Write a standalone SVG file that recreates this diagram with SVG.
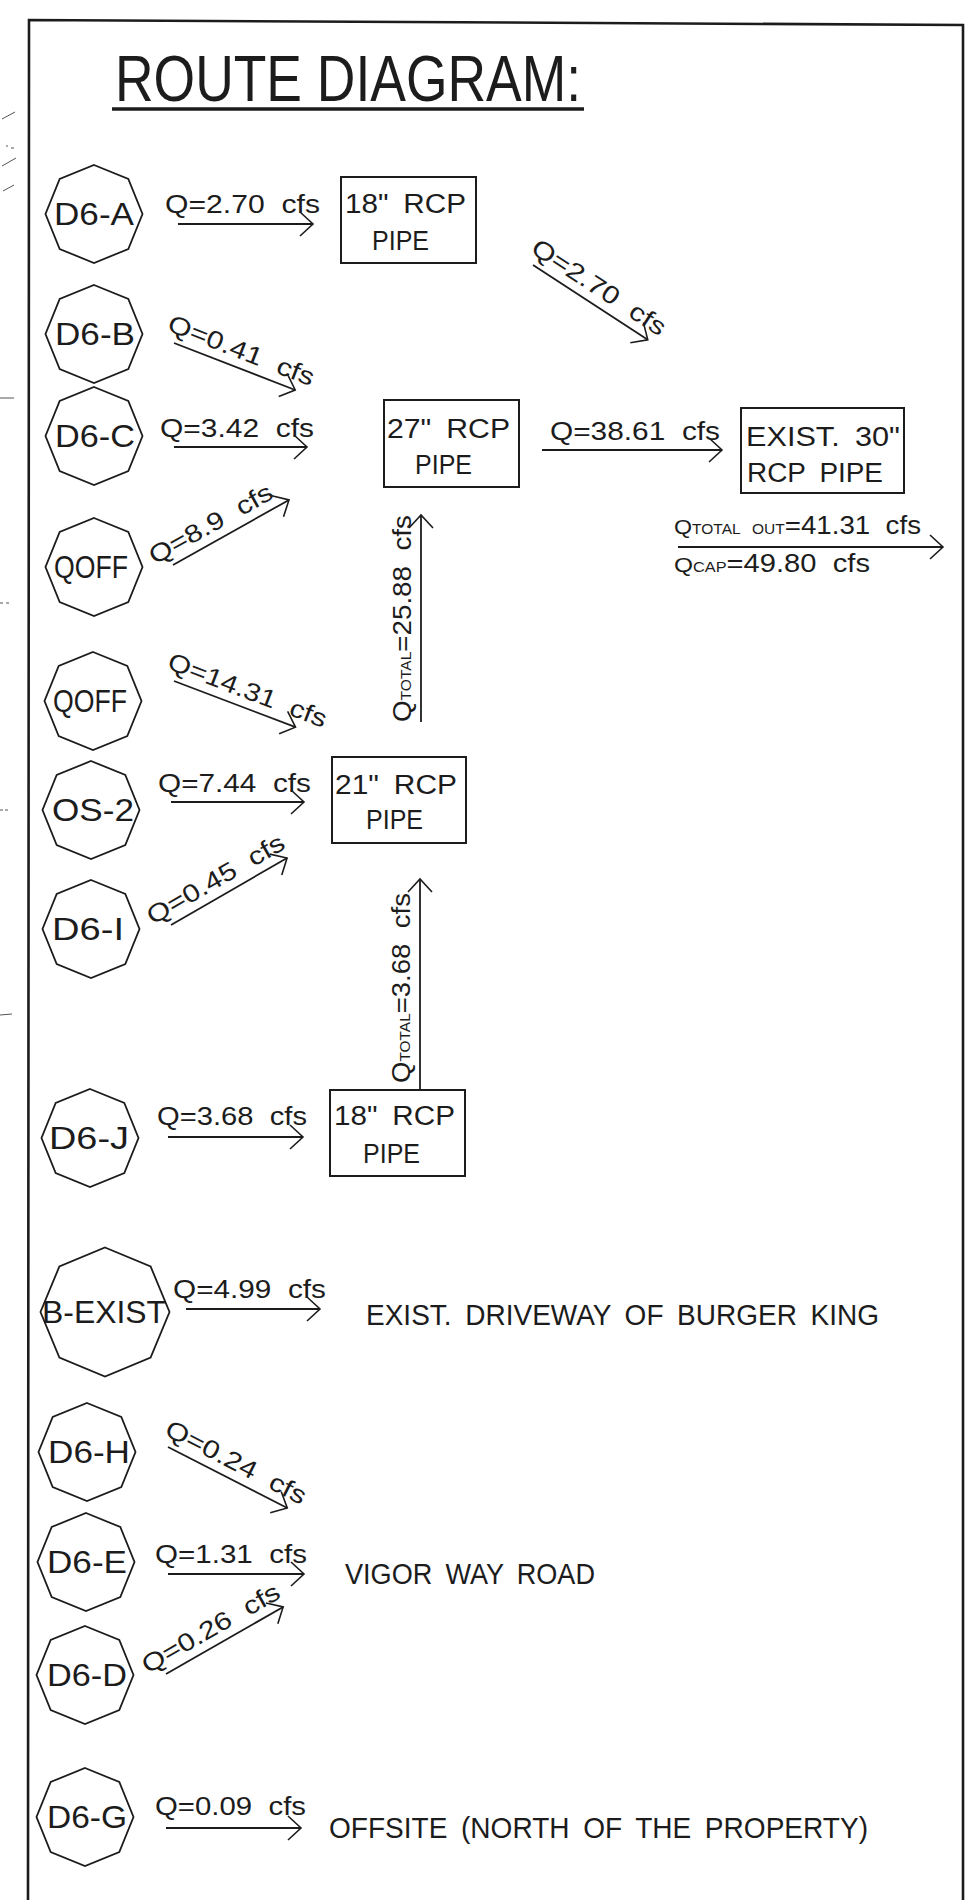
<svg xmlns="http://www.w3.org/2000/svg" width="974" height="1900" viewBox="0 0 974 1900">
<style>
text{font-family:"Liberation Sans",Arial,sans-serif;fill:#1c1c1c}
.lbl{font-size:25px;word-spacing:7px}
.nl{font-size:31px;text-anchor:middle}
.bx{font-size:27px;word-spacing:6px}
.dst{font-size:29px;word-spacing:6px}
.sm{font-size:14px}
.oct{fill:none;stroke:#1c1c1c;stroke-width:1.8}
.box{fill:none;stroke:#1c1c1c;stroke-width:2}
.arr{stroke:#1c1c1c;stroke-width:1.8;fill:none;marker-end:url(#ah)}
.frame{fill:none;stroke:#1c1c1c;stroke-width:2.6}
.mark{stroke:#555;stroke-width:1;fill:none}
</style>
<defs>
<polygon id="oct" points="0,-49 34.3,-35 48.5,0 34.3,35 0,49 -34.3,35 -48.5,0 -34.3,-35"/>
<polygon id="octL" points="0,-64.5 45.6,-45.6 64.5,0 45.6,45.6 0,64.5 -45.6,45.6 -64.5,0 -45.6,-45.6"/>
<marker id="ah" markerUnits="userSpaceOnUse" viewBox="-16 -16 32 32" markerWidth="32" markerHeight="32" refX="0" refY="0" orient="auto" overflow="visible">
<path d="M-13,-12 L0,0 L-13,12" fill="none" stroke="#1c1c1c" stroke-width="1.6"/>
</marker>
</defs>
<rect width="974" height="1900" fill="#ffffff"/>

<g id="frame">
<path class="frame" d="M28,1902 L29,20 L963,25 L963,1902"/>
<path class="mark" d="M2,119 L15,112 M6,146 L8,146 M11,148 L14,148 M2,166 L16,158 M3,191 L14,185 M0,398 L14,398 M0,603 L3,603 M6,603 L9,603 M0,810 L3,810 M5,810 L8,810 M0,1015 L12,1014"/>
</g>

<g id="title">
<text x="115" y="101" font-size="64" textLength="466" lengthAdjust="spacingAndGlyphs">ROUTE DIAGRAM:</text>
<line x1="112" y1="109" x2="584" y2="109" stroke="#1c1c1c" stroke-width="3.5"/>
</g>

<g id="node-d6a"><use href="#oct" class="oct" x="94" y="214"/><text class="nl" x="94" y="225" textLength="80" lengthAdjust="spacingAndGlyphs">D6-A</text></g>
<g id="node-d6b"><use href="#oct" class="oct" x="94" y="334"/><text class="nl" x="95" y="345" textLength="80" lengthAdjust="spacingAndGlyphs">D6-B</text></g>
<g id="node-d6c"><use href="#oct" class="oct" x="94" y="436"/><text class="nl" x="95" y="447" textLength="80" lengthAdjust="spacingAndGlyphs">D6-C</text></g>
<g id="node-qoff1"><use href="#oct" class="oct" x="94" y="567"/><text class="nl" x="91" y="578" textLength="74" lengthAdjust="spacingAndGlyphs">QOFF</text></g>
<g id="node-qoff2"><use href="#oct" class="oct" x="93" y="701"/><text class="nl" x="90" y="712" textLength="74" lengthAdjust="spacingAndGlyphs">QOFF</text></g>
<g id="node-os2"><use href="#oct" class="oct" x="91" y="810"/><text class="nl" x="93" y="821" textLength="82" lengthAdjust="spacingAndGlyphs">OS-2</text></g>
<g id="node-d6i"><use href="#oct" class="oct" x="91" y="929"/><text class="nl" x="88" y="940" textLength="72" lengthAdjust="spacingAndGlyphs">D6-I</text></g>
<g id="node-d6j"><use href="#oct" class="oct" x="90" y="1138"/><text class="nl" x="89" y="1149" textLength="80" lengthAdjust="spacingAndGlyphs">D6-J</text></g>
<g id="node-bexist"><use href="#octL" class="oct" x="105" y="1312"/><text class="nl" x="104" y="1323" textLength="124" lengthAdjust="spacingAndGlyphs">B-EXIST</text></g>
<g id="node-d6h"><use href="#oct" class="oct" x="87" y="1452"/><text class="nl" x="89" y="1463" textLength="82" lengthAdjust="spacingAndGlyphs">D6-H</text></g>
<g id="node-d6e"><use href="#oct" class="oct" x="86" y="1562"/><text class="nl" x="87" y="1573" textLength="80" lengthAdjust="spacingAndGlyphs">D6-E</text></g>
<g id="node-d6d"><use href="#oct" class="oct" x="85" y="1675"/><text class="nl" x="87" y="1686" textLength="80" lengthAdjust="spacingAndGlyphs">D6-D</text></g>
<g id="node-d6g"><use href="#oct" class="oct" x="85" y="1817"/><text class="nl" x="87" y="1828" textLength="80" lengthAdjust="spacingAndGlyphs">D6-G</text></g>

<g id="node-pipe18a"><rect class="box" x="341" y="177" width="135" height="86"/>
<text class="bx" x="345" y="213" textLength="121" lengthAdjust="spacingAndGlyphs">18" RCP</text>
<text class="bx" x="372" y="250" textLength="57" lengthAdjust="spacingAndGlyphs">PIPE</text></g>
<g id="node-pipe27"><rect class="box" x="384" y="400" width="135" height="87"/>
<text class="bx" x="387" y="438" textLength="123" lengthAdjust="spacingAndGlyphs">27" RCP</text>
<text class="bx" x="415" y="474" textLength="57" lengthAdjust="spacingAndGlyphs">PIPE</text></g>
<g id="node-exist30"><rect class="box" x="741" y="408" width="163" height="85"/>
<text class="bx" x="746" y="446" textLength="154" lengthAdjust="spacingAndGlyphs">EXIST. 30"</text>
<text class="bx" x="747" y="482" textLength="136" lengthAdjust="spacingAndGlyphs">RCP PIPE</text></g>
<g id="node-pipe21"><rect class="box" x="332" y="757" width="134" height="86"/>
<text class="bx" x="335" y="794" textLength="122" lengthAdjust="spacingAndGlyphs">21" RCP</text>
<text class="bx" x="366" y="829" textLength="57" lengthAdjust="spacingAndGlyphs">PIPE</text></g>
<g id="node-pipe18b"><rect class="box" x="330" y="1090" width="135" height="86"/>
<text class="bx" x="334" y="1125" textLength="121" lengthAdjust="spacingAndGlyphs">18" RCP</text>
<text class="bx" x="363" y="1163" textLength="57" lengthAdjust="spacingAndGlyphs">PIPE</text></g>

<g id="node-burgerking"><text class="dst" x="366" y="1325" textLength="513" lengthAdjust="spacingAndGlyphs">EXIST. DRIVEWAY OF BURGER KING</text></g>
<g id="node-vigor"><text class="dst" x="345" y="1584" textLength="250" lengthAdjust="spacingAndGlyphs">VIGOR WAY ROAD</text></g>
<g id="node-offsite"><text class="dst" x="329" y="1838" textLength="539" lengthAdjust="spacingAndGlyphs">OFFSITE (NORTH OF THE PROPERTY)</text></g>

<g id="connectors">
<line class="arr" x1="178" y1="224" x2="313" y2="224"/>
<text class="lbl" x="165" y="213" textLength="155" lengthAdjust="spacingAndGlyphs">Q=2.70 cfs</text>

<g transform="translate(533,265) rotate(33.1)">
<line class="arr" x1="0" y1="0" x2="137" y2="0"/>
<text class="lbl" x="-10" y="-9" textLength="155" lengthAdjust="spacingAndGlyphs">Q=2.70 cfs</text></g>

<g transform="translate(174,343) rotate(21.2)">
<line class="arr" x1="0" y1="0" x2="130" y2="0"/>
<text class="lbl" x="-12" y="-9" textLength="155" lengthAdjust="spacingAndGlyphs">Q=0.41 cfs</text></g>

<line class="arr" x1="174" y1="447" x2="307" y2="447"/>
<text class="lbl" x="160" y="437" textLength="154" lengthAdjust="spacingAndGlyphs">Q=3.42 cfs</text>

<line class="arr" x1="542" y1="450" x2="722" y2="450"/>
<text class="lbl" x="550" y="440" textLength="170" lengthAdjust="spacingAndGlyphs">Q=38.61 cfs</text>

<line class="arr" x1="678" y1="547" x2="943" y2="547"/>
<text class="lbl" x="674" y="534" textLength="247" lengthAdjust="spacingAndGlyphs"><tspan font-size="21">Q</tspan><tspan class="sm">TOTAL OUT</tspan>=41.31 cfs</text>
<text class="lbl" x="674" y="572" textLength="196" lengthAdjust="spacingAndGlyphs"><tspan font-size="21">Q</tspan><tspan class="sm">CAP</tspan>=49.80 cfs</text>

<g transform="translate(173,565) rotate(-29.3)">
<line class="arr" x1="0" y1="0" x2="133" y2="0"/>
<text class="lbl" x="-16" y="-9" textLength="138" lengthAdjust="spacingAndGlyphs">Q=8.9 cfs</text></g>

<line class="arr" x1="421" y1="722" x2="421" y2="515"/>
<text class="lbl" transform="translate(411,722) rotate(-90)" textLength="207" lengthAdjust="spacingAndGlyphs">Q<tspan class="sm">TOTAL</tspan>=25.88 cfs</text>

<g transform="translate(174,681) rotate(20.8)">
<line class="arr" x1="0" y1="0" x2="130" y2="0"/>
<text class="lbl" x="-12" y="-9" textLength="168" lengthAdjust="spacingAndGlyphs">Q=14.31 cfs</text></g>

<line class="arr" x1="171" y1="802" x2="304" y2="802"/>
<text class="lbl" x="158" y="792" textLength="153" lengthAdjust="spacingAndGlyphs">Q=7.44 cfs</text>

<g transform="translate(171,925) rotate(-30)">
<line class="arr" x1="0" y1="0" x2="134" y2="0"/>
<text class="lbl" x="-16" y="-9" textLength="155" lengthAdjust="spacingAndGlyphs">Q=0.45 cfs</text></g>

<line class="arr" x1="420" y1="1090" x2="420" y2="879"/>
<text class="lbl" transform="translate(410,1083) rotate(-90)" textLength="190" lengthAdjust="spacingAndGlyphs">Q<tspan class="sm">TOTAL</tspan>=3.68 cfs</text>

<line class="arr" x1="168" y1="1137" x2="303" y2="1137"/>
<text class="lbl" x="157" y="1125" textLength="150" lengthAdjust="spacingAndGlyphs">Q=3.68 cfs</text>

<line class="arr" x1="186" y1="1309" x2="320" y2="1309"/>
<text class="lbl" x="173" y="1298" textLength="153" lengthAdjust="spacingAndGlyphs">Q=4.99 cfs</text>

<g transform="translate(168,1447) rotate(27.1)">
<line class="arr" x1="0" y1="0" x2="134" y2="0"/>
<text class="lbl" x="-10" y="-9" textLength="155" lengthAdjust="spacingAndGlyphs">Q=0.24 cfs</text></g>

<line class="arr" x1="168" y1="1574" x2="304" y2="1574"/>
<text class="lbl" x="155" y="1563" textLength="152" lengthAdjust="spacingAndGlyphs">Q=1.31 cfs</text>

<g transform="translate(166,1674) rotate(-29.8)">
<line class="arr" x1="0" y1="0" x2="135" y2="0"/>
<text class="lbl" x="-16" y="-9" textLength="155" lengthAdjust="spacingAndGlyphs">Q=0.26 cfs</text></g>

<line class="arr" x1="166" y1="1828" x2="301" y2="1828"/>
<text class="lbl" x="155" y="1815" textLength="151" lengthAdjust="spacingAndGlyphs">Q=0.09 cfs</text>
</g>
</svg>
